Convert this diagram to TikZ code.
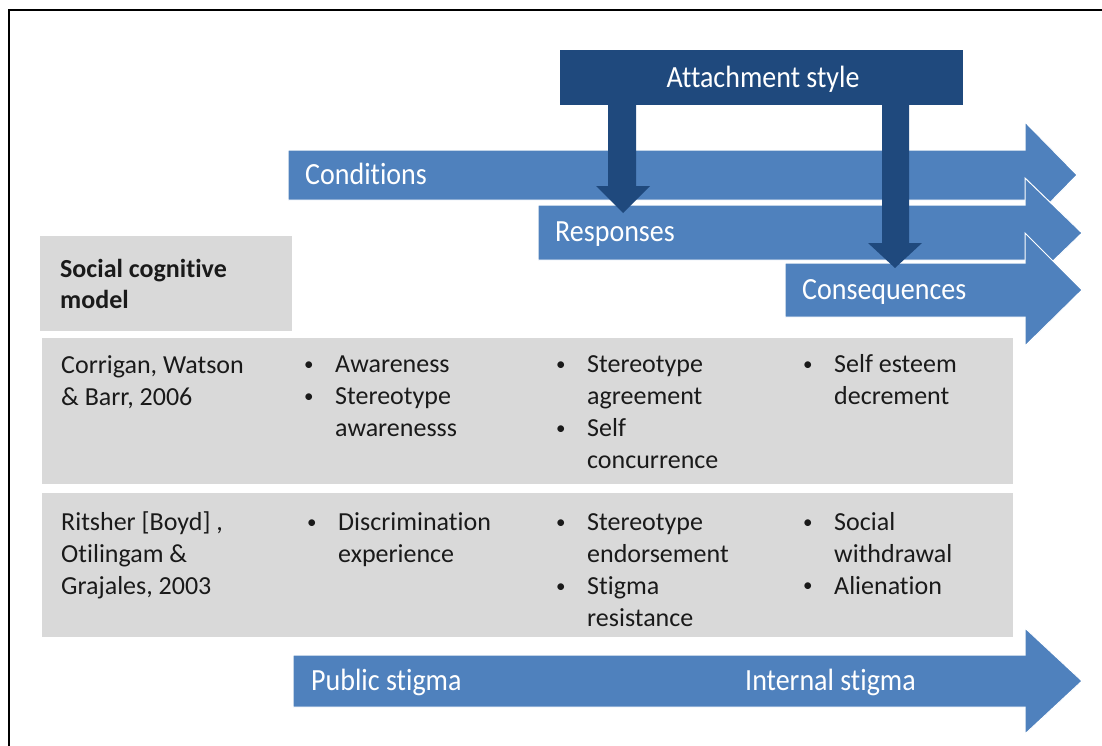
\documentclass[tikz,border=0pt]{standalone}
\usepackage{fontspec}
\setmainfont{Carlito}[Ligatures=NoCommon]
\definecolor{arrowblue}{HTML}{4F81BD}
\definecolor{darkblue}{HTML}{1F497D}
\definecolor{cellgray}{HTML}{D9D9D9}
\definecolor{ink}{HTML}{1A1A1A}
\tikzset{
  blockarrow/.style={fill=arrowblue, draw=white, line width=1pt, line join=miter},
  downarrow/.style={fill=darkblue},
  cell/.style={fill=cellgray},
  txt/.style={anchor=base west, inner sep=0pt, text=ink, font=\fontsize{26}{32}\selectfont},
  bullet/.style={txt, font=\fontsize{19}{32}\selectfont},
  bold/.style={txt, font=\fontsize{26}{32}\selectfont\bfseries},
  head/.style={anchor=base west, inner sep=0pt, text=white, font=\fontsize{28}{34}\selectfont},
}
\newcommand\tall[1]{\scalebox{1}[1.1]{#1}}
\newcommand\txtlines[4]{% name, x, baseline y, list
  \foreach \t [count=\i from 0] in {#4} \node[txt] (#1-\i) at (#2, #3+32*\i) {\t};}
\newcommand\bul[3]{\node[bullet] (#1) at (#2,#3-2) {•};}
\begin{document}
\begin{tikzpicture}[x=1pt,y=-1pt]
\useasboundingbox (0,0) rectangle (1102,745);
\begin{scope}
\clip (0,0) rectangle (1102,745);
\draw[line width=2pt] (9,10) rectangle (1130,770);
\end{scope}

% stage arrows
\path[blockarrow] (288,150) -- (1025,150) -- (1025,122) -- (1077,175) -- (1025,228) -- (1025,200) -- (288,200) -- cycle;
\path[blockarrow] (538,205) -- (1025,205) -- (1025,178) -- (1082,233) -- (1025,288) -- (1025,260) -- (538,260) -- cycle;
\path[blockarrow] (785,263) -- (1025,263) -- (1025,233) -- (1082,290) -- (1025,346) -- (1025,317) -- (785,317) -- cycle;
\node[head] (cond) at (305,184) {\tall{Conditions}};
\node[head] (resp) at (555,241) {\tall{Responses}};
\node[head] (cons) at (802,299) {\tall{Consequences}};

% attachment style
\fill[darkblue] (560,50) rectangle (963,105);
\node[head, anchor=base] (att) at (763,87) {\tall{Attachment style}};
\path[downarrow] (608,104) -- (636,104) -- (636,186) -- (650,186) -- (623,213) -- (596,186) -- (608,186) -- cycle;
\path[downarrow] (882,104) -- (909,104) -- (909,243) -- (922,243) -- (895,268) -- (868,243) -- (882,243) -- cycle;

% table
\fill[cell] (40,236) rectangle (292,331);
\node[bold] (scm1) at (60,277) {Social cognitive};
\node[bold] (scm2) at (60,308) {model};

\fill[cell] (42,338) rectangle (1013,484);
\fill[cell] (42,493) rectangle (1013,637);

\txtlines{r1a}{61}{373}{{Corrigan, Watson},{\& Barr, 2006}}
\bul{r1b1}{304}{372}\bul{r1b2}{304}{404}
\txtlines{r1b}{335}{372}{Awareness,Stereotype,awarenesss}
\bul{r1c1}{556}{372}\bul{r1c2}{556}{436}
\txtlines{r1c}{587}{372}{Stereotype,agreement,Self,concurrence}
\bul{r1d1}{803}{372}
\txtlines{r1d}{834}{372}{Self esteem,decrement}

\txtlines{r2a}{61}{530}{{Ritsher [Boyd] ,},{Otilingam \&},{Grajales, 2003}}
\bul{r2b1}{307}{530}
\txtlines{r2b}{338}{530}{Discrimination,experience}
\bul{r2c1}{556}{530}\bul{r2c2}{556}{594}
\txtlines{r2c}{587}{530}{Stereotype,endorsement,Stigma,resistance}
\bul{r2d1}{803}{530}\bul{r2d2}{803}{593}
\txtlines{r2d}{834}{530}{Social,withdrawal,Alienation}

% stigma arrow
\path[blockarrow] (293,655) -- (1025,655) -- (1025,628) -- (1082,681) -- (1025,734) -- (1025,707) -- (293,707) -- cycle;
\node[head] (pub) at (311,690) {\tall{Public stigma}};
\node[head] (int) at (745,690) {\tall{Internal stigma}};
\end{tikzpicture}
\end{document}
